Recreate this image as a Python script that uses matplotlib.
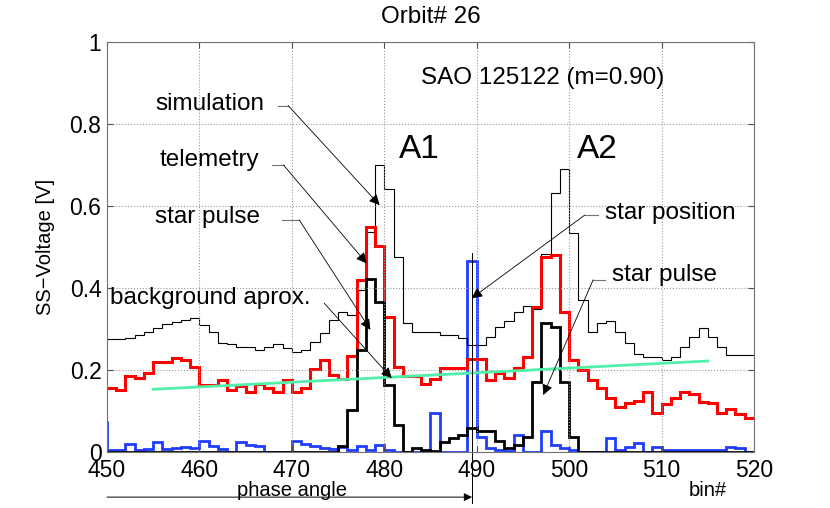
import numpy as np
import matplotlib.pyplot as plt

plt.rcParams['font.family'] = ['Liberation Sans', 'DejaVu Sans']

# bin edges (bins of width 1)
edges = np.arange(450, 521)
edges_blue = np.arange(449, 521)

simulation = [0.275, 0.275, 0.279, 0.285, 0.293, 0.303, 0.312, 0.318, 0.322, 0.328,
              0.310, 0.293, 0.267, 0.263, 0.257, 0.257, 0.250, 0.257, 0.263, 0.253,
              0.245, 0.250, 0.269, 0.290, 0.322, 0.342, 0.335, 0.395, 0.537, 0.701,
              0.641, 0.476, 0.315, 0.293, 0.293, 0.293, 0.285, 0.285, 0.277, 0.261,
              0.261, 0.281, 0.306, 0.320, 0.342, 0.356, 0.350, 0.484, 0.631, 0.690,
              0.533, 0.371, 0.293, 0.314, 0.320, 0.293, 0.265, 0.239, 0.231, 0.231,
              0.224, 0.231, 0.257, 0.281, 0.302, 0.281, 0.255, 0.236, 0.236, 0.236]

telemetry = [0.155, 0.151, 0.185, 0.180, 0.192, 0.220, 0.220, 0.230, 0.224, 0.208,
             0.163, 0.163, 0.176, 0.151, 0.161, 0.147, 0.166, 0.155, 0.147, 0.176,
             0.147, 0.155, 0.202, 0.224, 0.188, 0.177, 0.235, 0.420, 0.548, 0.502,
             0.329, 0.208, 0.185, 0.185, 0.167, 0.179, 0.204, 0.204, 0.204, 0.226,
             0.226, 0.176, 0.192, 0.180, 0.204, 0.232, 0.354, 0.475, 0.480, 0.342,
             0.224, 0.200, 0.176, 0.155, 0.131, 0.111, 0.120, 0.125, 0.147, 0.096,
             0.117, 0.131, 0.147, 0.141, 0.123, 0.119, 0.096, 0.104, 0.092, 0.082]

star_pulse = [0.0] * 25 + [0.015, 0.102, 0.249, 0.421, 0.367,
                           0.163, 0.066, 0.0, 0.010, 0.005, 0.003, 0.025, 0.035, 0.041, 0.058,
                           0.051, 0.051, 0.027, 0.009, 0.017, 0.037, 0.171, 0.314, 0.304, 0.171,
                           0.037] + [0.0] * 19

star_position = [0.073,
                 0.005, 0.005, 0.020, 0.005, 0.008, 0.025, 0.008, 0.010, 0.012, 0.010,
                 0.027, 0.015, 0.008, 0.0, 0.024, 0.017, 0.015, 0.0, 0.0, 0.0,
                 0.026, 0.020, 0.015, 0.010, 0.008, 0.012, 0.005, 0.015, 0.005, 0.018,
                 0.005, 0.0, 0.0, 0.0, 0.0, 0.094, 0.0, 0.0, 0.0, 0.466,
                 0.037, 0.009, 0.005, 0.003, 0.041, 0.0, 0.0, 0.052, 0.016, 0.009,
                 0.005, 0.0, 0.0, 0.0, 0.033, 0.005, 0.013, 0.023, 0.0, 0.013,
                 0.005, 0.005, 0.005, 0.005, 0.005, 0.005, 0.005, 0.013, 0.011, 0.0]

bg_x = [455, 515]
bg_y = [0.153, 0.222]

fig = plt.figure(figsize=(8.3, 5.08), dpi=100)
ax = fig.add_axes([0.1289, 0.1102, 0.7795, 0.8071])

ax.stairs(star_position, edges_blue, color='#1f3cff', lw=2, baseline=None)
ax.stairs(simulation, edges, color='k', lw=0.8, baseline=None)
ax.stairs(telemetry, edges, color='#ff0000', lw=2.2, baseline=None)
ax.plot(bg_x, bg_y, color='#50f0a8', lw=2)
ax.stairs(star_pulse, edges, color='k', lw=2, baseline=None)

ax.set_xlim(450, 520)
ax.set_ylim(0, 1)
ax.set_xticks(np.arange(450, 521, 10))
ax.set_yticks([0, 0.2, 0.4, 0.6, 0.8, 1])
ax.set_yticklabels(['0', '0.2', '0.4', '0.6', '0.8', '1'])
ax.tick_params(direction='in', top=True, right=True, labelsize=16.5, length=4, color='0.3')
ax.tick_params(axis='x', pad=5)
ax.tick_params(axis='y', pad=4)
ax.grid(True, linestyle=':', color='0.6', lw=0.8)
for s in ax.spines.values():
    s.set_color('0.45')

fig.text(0.5187, 0.9665, 'Orbit# 26', fontsize=17.5, ha='center', va='center')
ax.set_ylabel('SS\u2212Voltage [V]', fontsize=14.5)
ax.yaxis.set_label_coords(-0.080, 0.5)

ax.text(497.1, 0.912, 'SAO 125122 (m=0.90)', fontsize=17.5, ha='center', va='center')
ax.text(483.8, 0.737, 'A1', fontsize=24, ha='center', va='center')
ax.text(503.1, 0.737, 'A2', fontsize=24, ha='center', va='center')

aprops = dict(arrowstyle='-|>', color='k', lw=0.6, mutation_scale=16, shrinkA=0, shrinkB=0)
tick_col = '0.45'

# left-hand labels with their arrows
ax.text(455.2, 0.849, 'simulation', fontsize=17.5, va='center')
ax.plot([468.5, 469.6], [0.845, 0.845], color=tick_col, lw=0.8)
ax.annotate('', xy=(479.5, 0.602), xytext=(469.6, 0.845), arrowprops=aprops)

ax.text(455.66, 0.712, 'telemetry', fontsize=17.5, va='center')
ax.plot([467.8, 469.1], [0.70, 0.70], color=tick_col, lw=0.8)
ax.annotate('', xy=(478.1, 0.46), xytext=(469.1, 0.70), arrowprops=aprops)

ax.text(455.2, 0.574, 'star pulse', fontsize=17.5, va='center')
ax.plot([468.9, 470.8], [0.566, 0.566], color=tick_col, lw=0.8)
ax.annotate('', xy=(478.5, 0.298), xytext=(470.8, 0.566), arrowprops=aprops)

ax.text(450.3, 0.375, 'background aprox.', fontsize=17.5, va='center')
ax.annotate('', xy=(480.8, 0.18), xytext=(473.5, 0.363), arrowprops=aprops)

# right-hand labels with their arrows
ax.text(503.9, 0.583, 'star position', fontsize=17.5, va='center')
ax.plot([501.7, 503.1], [0.578, 0.578], color=tick_col, lw=0.8)
ax.annotate('', xy=(489.46, 0.375), xytext=(501.7, 0.578), arrowprops=aprops)

ax.text(504.6, 0.432, 'star pulse', fontsize=17.5, va='center')
ax.plot([502.6, 503.9], [0.42, 0.42], color=tick_col, lw=0.8)
ax.annotate('', xy=(497.2, 0.139), xytext=(502.6, 0.42), arrowprops=aprops)

# phase angle marker below the axis
ax.plot([489.5, 489.5], [0.485, -0.125], color='k', lw=0.7, clip_on=False)
ax.annotate('', xy=(489.5, -0.11), xytext=(450, -0.11), xycoords='data',
            arrowprops=dict(arrowstyle='-|>', color='k', lw=0.7, mutation_scale=12,
                            shrinkA=0, shrinkB=0), annotation_clip=False)
ax.text(470.0, -0.095, 'phase angle', fontsize=14.5, ha='center', va='center')
ax.text(515.0, -0.095, 'bin#', fontsize=14.5, ha='center', va='center')

fig.savefig('out.png')
